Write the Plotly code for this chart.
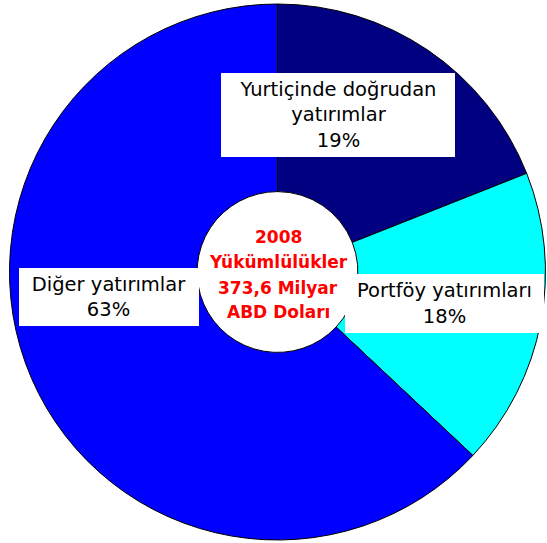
import plotly.graph_objects as go

W, H = 547, 543

labels = ["Yurtiçinde doğrudan yatırımlar", "Portföy yatırımları", "Diğer yatırımlar"]
values = [19, 18, 63]
colors = ["#000080", "#00FFFF", "#0000FF"]
label_lines = [["Yurtiçinde doğrudan", "yatırımlar"], ["Portföy yatırımları"], ["Diğer yatırımlar"]]
center_lines = ["2008", "Yükümlülükler", "373,6 Milyar", "ABD Doları"]

# label box placement (pixels: left, top, width, height)
boxes = [(221, 73, 234, 84), (345, 274, 199, 59), (19, 268, 180, 58)]
center_y = [237, 262, 288, 312]

fig = go.Figure(go.Pie(
    labels=labels, values=values, sort=False, direction="clockwise", rotation=0,
    hole=0.30, textinfo="none", hoverinfo="label+percent",
    marker=dict(colors=colors, line=dict(color="black", width=1)),
    domain=dict(x=[9.5 / W, 545.5 / W], y=[1 - 540 / H, 1 - 4 / H]),
))

ann = []
for lines, v, (l, t, w, h) in zip(label_lines, values, boxes):
    txt = "<br>".join(lines + [f"{v}%"])
    ann.append(dict(
        text=txt, xref="paper", yref="paper", x=l / W, y=1 - t / H,
        xanchor="left", yanchor="top", width=w, height=h, showarrow=False,
        bgcolor="white", borderwidth=0, borderpad=0, align="center", valign="middle",
        font=dict(family="DejaVu Sans", size=19.5, color="black"),
    ))
for s, y in zip(center_lines, center_y):
    ann.append(dict(
        text=f"<b>{s}</b>", xref="paper", yref="paper", x=278 / W, y=1 - y / H,
        xanchor="center", yanchor="middle", showarrow=False,
        font=dict(family="DejaVu Sans", size=17, color="#FF0000"),
    ))

fig.update_layout(
    width=W, height=H, margin=dict(l=0, r=0, t=0, b=0),
    paper_bgcolor="white", plot_bgcolor="white", showlegend=False,
    annotations=ann,
)
fig.write_html("out.html", config={"displayModeBar": False},
               post_script="document.body.style.margin='0px';")
